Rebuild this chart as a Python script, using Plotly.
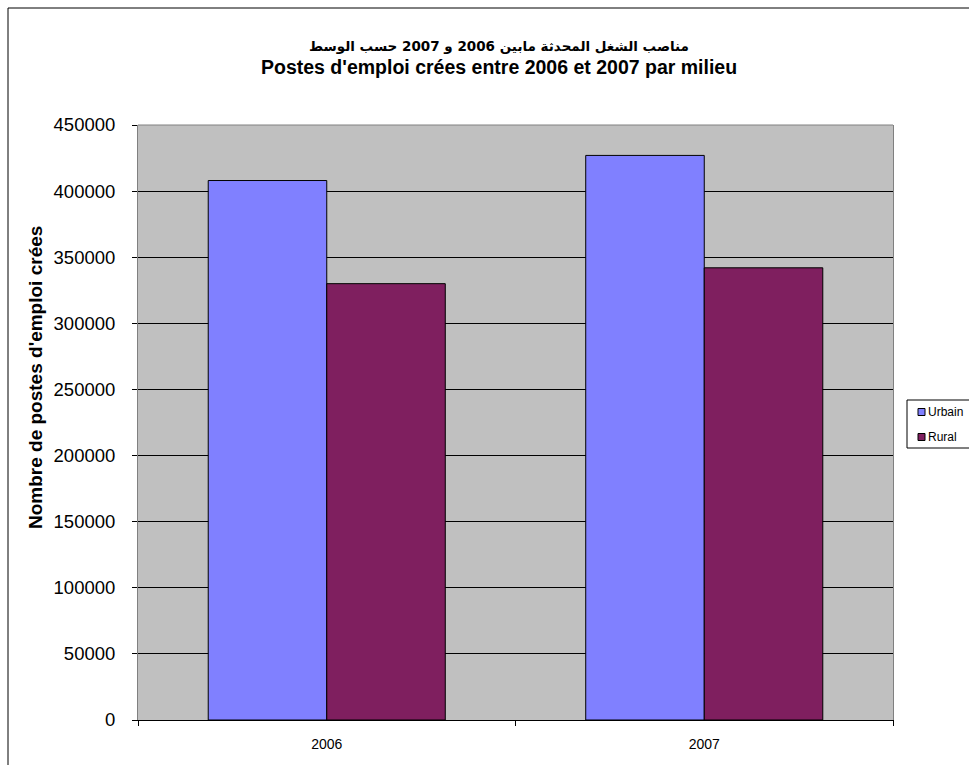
import plotly.graph_objects as go

# Data
years = ["2006", "2007"]
urbain = [408000, 427000]
rural = [330000, 342000]
series_names = ["Urbain", "Rural"]
y_ticks = [0, 50000, 100000, 150000, 200000, 250000, 300000, 350000, 400000, 450000]

FONT = "Liberation Sans, Arial, DejaVu Sans, sans-serif"
COLORS = ["#8080FF", "#7F1F5F"]

# plot area in pixels (left, right, top, bottom)
PL, PR, PT, PB = 138, 893, 125, 720


def px(x):
    return (x - PL) / (PR - PL)


def py(y):
    return (PB - y) / (PB - PT)


fig = go.Figure()
for name, vals, col in zip(series_names, [urbain, rural], COLORS):
    fig.add_trace(go.Bar(
        x=years, y=vals, name=name, showlegend=False,
        marker=dict(color=col, line=dict(color="black", width=1)),
    ))

fig.update_layout(
    width=969, height=765,
    paper_bgcolor="white",
    plot_bgcolor="#C0C0C0",
    barmode="group",
    bargap=0.372,
    bargroupgap=0,
    margin=dict(l=PL, r=969 - PR, t=PT, b=765 - PB, autoexpand=False),
    font=dict(family=FONT, color="black"),
    showlegend=False,
)

fig.update_yaxes(
    range=[0, 450000], tickvals=y_ticks, ticktext=[str(v) for v in y_ticks],
    showgrid=True, gridcolor="black", gridwidth=1,
    showline=True, linecolor="#808080", linewidth=1, mirror=True,
    ticks="outside", ticklen=5, tickcolor="black",
    tickfont=dict(size=18.5, family=FONT),
    ticklabelstandoff=13,
    zeroline=False,
)
fig.update_xaxes(
    showline=True, linecolor="black", linewidth=1,
    ticks="outside", ticklen=5, tickcolor="black",
    tickson="boundaries",
    tickfont=dict(size=14, family=FONT),
    ticklabelstandoff=11,
)

# Two-line bold title
fig.add_annotation(
    text="<b>مناصب الشغل المحدثة مابين 2006 و 2007 حسب الوسط</b>",
    xref="paper", yref="paper", x=px(499), y=py(46),
    showarrow=False, xanchor="center", yanchor="middle",
    font=dict(size=13.5, family="DejaVu Sans, sans-serif"),
)
fig.add_annotation(
    text="<b>Postes d'emploi crées entre 2006 et 2007 par milieu</b>",
    xref="paper", yref="paper", x=px(499), y=py(67),
    showarrow=False, xanchor="center", yanchor="middle",
    font=dict(size=19.5, family=FONT),
)
# Y axis title
fig.add_annotation(
    text="<b>Nombre de postes d'emploi crées</b>",
    xref="paper", yref="paper", x=px(35), y=py(378),
    showarrow=False, textangle=-90, xanchor="center", yanchor="middle",
    font=dict(size=19, family=FONT),
)

# Outer chart frame
fig.add_shape(
    type="rect", xref="paper", yref="paper",
    x0=px(8), x1=px(990), y0=py(790), y1=py(8),
    line=dict(color="black", width=1), fillcolor="rgba(0,0,0,0)",
)
# Gray top border of plot area
fig.add_shape(
    type="line", xref="paper", yref="paper", x0=0, x1=1, y0=1, y1=1,
    line=dict(color="#808080", width=1),
)

# Excel-style legend box, running off the right edge
fig.add_shape(
    type="rect", xref="paper", yref="paper",
    x0=px(907), x1=px(990), y0=py(448), y1=py(400),
    line=dict(color="black", width=1), fillcolor="white",
)
for name, col, yc in zip(series_names, COLORS, [412, 437]):
    fig.add_shape(
        type="rect", xref="paper", yref="paper",
        x0=px(918), x1=px(925), y0=py(yc + 3.5), y1=py(yc - 3.5),
        line=dict(color="black", width=1), fillcolor=col,
    )
    fig.add_annotation(
        text=name, xref="paper", yref="paper", x=px(926), y=py(yc),
        showarrow=False, xanchor="left", yanchor="middle",
        font=dict(size=12, family=FONT),
    )

fig.write_html(
    "out.html",
    default_width="969px", default_height="765px",
    config={"responsive": False, "displayModeBar": False},
    post_script="document.body.style.margin='0';document.body.style.overflow='hidden';",
)
